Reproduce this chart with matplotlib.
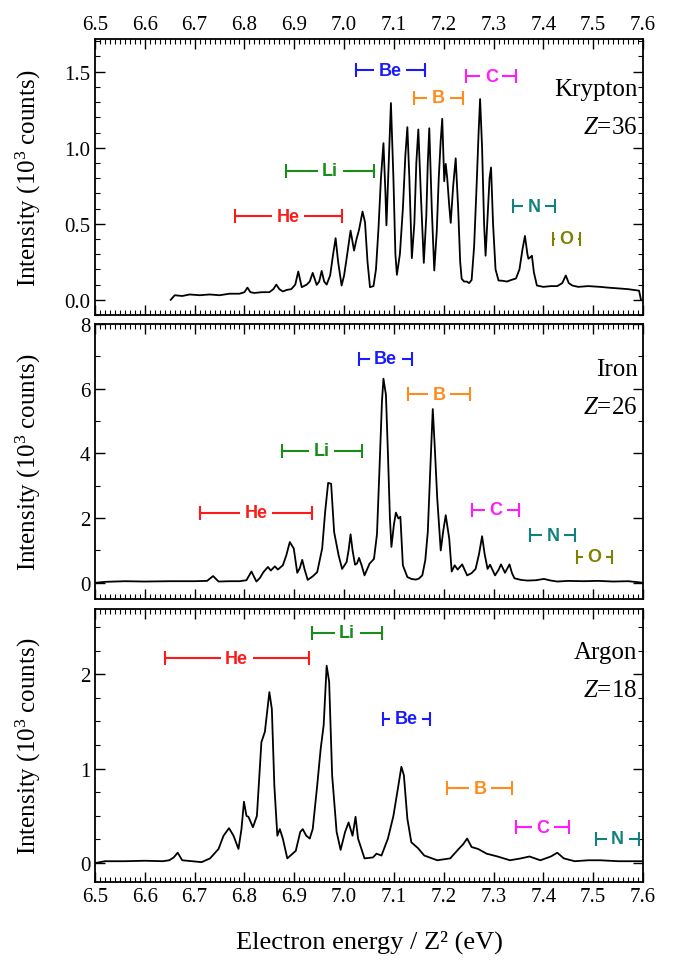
import numpy as np
import matplotlib
matplotlib.use("Agg")
import matplotlib.pyplot as plt
from matplotlib.ticker import MultipleLocator

plt.rcParams['font.family'] = ['Liberation Serif', 'DejaVu Serif']
plt.rcParams['mathtext.fontset'] = 'custom'
plt.rcParams['mathtext.rm'] = 'Liberation Serif'
plt.rcParams['mathtext.it'] = 'Liberation Serif:italic'

# --- spectra (x = electron energy / Z^2 in eV, y in 10^3 counts)
kr_x = [6.652, 6.660, 6.675, 6.690, 6.710, 6.730, 6.750, 6.770, 6.790, 6.800, 6.806, 6.812,
        6.820, 6.835, 6.850, 6.858, 6.864, 6.870, 6.877, 6.885, 6.894, 6.902, 6.908, 6.915,
        6.925, 6.931, 6.937, 6.945, 6.950, 6.955, 6.960, 6.965, 6.972, 6.978, 6.983, 6.988,
        6.995, 7.000, 7.005, 7.013, 7.020, 7.025, 7.030, 7.037, 7.042, 7.047, 7.052, 7.059,
        7.064, 7.069, 7.074, 7.079, 7.083, 7.085, 7.089, 7.094, 7.099, 7.103, 7.106, 7.112,
        7.118, 7.123, 7.127, 7.131, 7.136, 7.141, 7.145, 7.149, 7.154, 7.160, 7.165, 7.168,
        7.171, 7.176, 7.181, 7.186, 7.190, 7.194, 7.197, 7.201, 7.204, 7.207, 7.211, 7.214,
        7.219, 7.224, 7.229, 7.233, 7.236, 7.241, 7.246, 7.251, 7.256, 7.261, 7.266, 7.270,
        7.273, 7.277, 7.281, 7.284, 7.288, 7.292, 7.295, 7.299, 7.304, 7.310, 7.318, 7.327,
        7.335, 7.345, 7.352, 7.358, 7.363, 7.368, 7.370, 7.374, 7.377, 7.381, 7.387, 7.400,
        7.415, 7.428, 7.438, 7.445, 7.451, 7.458, 7.470, 7.490, 7.514, 7.530, 7.550, 7.570,
        7.592, 7.596]
kr_y = [0.00, 0.03, 0.025, 0.035, 0.03, 0.035, 0.03, 0.04, 0.04, 0.05, 0.08, 0.05,
        0.045, 0.05, 0.05, 0.07, 0.10, 0.07, 0.055, 0.065, 0.07, 0.10, 0.186, 0.083,
        0.10, 0.12, 0.177, 0.098, 0.12, 0.19, 0.12, 0.10, 0.16, 0.30, 0.405, 0.25,
        0.094, 0.16, 0.27, 0.455, 0.324, 0.40, 0.46, 0.58, 0.51, 0.25, 0.083, 0.09,
        0.20, 0.467, 0.80, 1.03, 0.70, 0.49, 0.85, 1.294, 0.80, 0.30, 0.164, 0.30,
        0.60, 0.95, 1.135, 0.80, 0.274, 0.50, 0.90, 1.12, 0.70, 0.243, 0.55, 0.90,
        1.128, 0.60, 0.193, 0.45, 0.80, 1.05, 1.19, 0.78, 0.894, 0.80, 0.62, 0.506,
        0.75, 0.93, 0.60, 0.25, 0.138, 0.12, 0.12, 0.11, 0.13, 0.35, 0.75, 1.10,
        1.32, 1.00, 0.50, 0.29, 0.55, 0.80, 0.87, 0.50, 0.20, 0.127, 0.125, 0.12,
        0.13, 0.14, 0.20, 0.33, 0.42, 0.30, 0.27, 0.28, 0.29, 0.18, 0.094, 0.085,
        0.09, 0.09, 0.11, 0.16, 0.11, 0.094, 0.085, 0.09, 0.085, 0.08, 0.075, 0.07,
        0.06, 0.00]

fe_x = [6.500, 6.520, 6.560, 6.600, 6.650, 6.700, 6.725, 6.737, 6.748, 6.770, 6.790, 6.804,
        6.814, 6.824, 6.831, 6.838, 6.847, 6.853, 6.861, 6.867, 6.877, 6.884, 6.891, 6.899,
        6.906, 6.911, 6.916, 6.921, 6.927, 6.937, 6.946, 6.956, 6.962, 6.968, 6.974, 6.980,
        6.989, 6.996, 7.005, 7.009, 7.013, 7.017, 7.022, 7.026, 7.030, 7.035, 7.041, 7.051,
        7.060, 7.066, 7.071, 7.076, 7.079, 7.084, 7.088, 7.092, 7.095, 7.100, 7.104, 7.109,
        7.113, 7.118, 7.127, 7.135, 7.144, 7.150, 7.157, 7.163, 7.168, 7.173, 7.178, 7.182,
        7.187, 7.194, 7.199, 7.204, 7.211, 7.216, 7.222, 7.228, 7.237, 7.247, 7.256, 7.264,
        7.271, 7.277, 7.282, 7.288, 7.293, 7.303, 7.310, 7.315, 7.323, 7.332, 7.337, 7.342,
        7.355, 7.368, 7.385, 7.401, 7.415, 7.428, 7.450, 7.480, 7.510, 7.540, 7.570, 7.590,
        7.600]
fe_y = [0.00, 0.03, 0.05, 0.04, 0.05, 0.05, 0.06, 0.21, 0.04, 0.05, 0.05, 0.08,
        0.35, 0.04, 0.15, 0.33, 0.49, 0.38, 0.51, 0.41, 0.54, 0.85, 1.26, 1.06,
        0.31, 0.45, 0.71, 0.40, 0.09, 0.20, 0.33, 1.06, 2.20, 3.09, 3.06, 1.57,
        0.85, 0.43, 0.64, 1.00, 1.50, 1.00, 0.56, 0.60, 0.77, 0.55, 0.23, 0.59,
        0.74, 1.50, 3.50, 5.60, 6.31, 5.81, 4.00, 2.00, 1.11, 1.80, 2.17, 1.99,
        2.04, 0.54, 0.18, 0.12, 0.10, 0.13, 0.23, 0.70, 1.57, 3.50, 5.37, 4.20,
        2.61, 1.00, 1.60, 2.09, 1.37, 0.35, 0.54, 0.41, 0.57, 0.23, 0.30, 0.43,
        0.90, 1.44, 0.90, 0.43, 0.56, 0.23, 0.40, 0.57, 0.31, 0.57, 0.30, 0.14,
        0.09, 0.07, 0.08, 0.12, 0.07, 0.04, 0.06, 0.05, 0.06, 0.04, 0.05, 0.02,
        0.00]

ar_x = [6.500, 6.520, 6.560, 6.600, 6.636, 6.649, 6.658, 6.666, 6.675, 6.695, 6.714, 6.731,
        6.748, 6.758, 6.769, 6.778, 6.788, 6.794, 6.799, 6.804, 6.808, 6.817, 6.825, 6.834,
        6.841, 6.850, 6.855, 6.860, 6.866, 6.871, 6.877, 6.886, 6.903, 6.912, 6.917, 6.924,
        6.931, 6.937, 6.946, 6.953, 6.959, 6.965, 6.970, 6.976, 6.985, 6.993, 7.002, 7.009,
        7.017, 7.023, 7.028, 7.041, 7.058, 7.065, 7.075, 7.088, 7.099, 7.108, 7.115, 7.120,
        7.127, 7.135, 7.148, 7.161, 7.187, 7.213, 7.230, 7.239, 7.247, 7.256, 7.269, 7.286,
        7.308, 7.333, 7.355, 7.372, 7.394, 7.415, 7.428, 7.441, 7.463, 7.490, 7.514, 7.550,
        7.600]
ar_y = [0.00, 0.02, 0.02, 0.025, 0.02, 0.03, 0.06, 0.11, 0.03, 0.02, 0.01, 0.05,
        0.15, 0.29, 0.37, 0.29, 0.15, 0.36, 0.65, 0.50, 0.49, 0.38, 0.50, 1.28,
        1.39, 1.81, 1.63, 0.82, 0.29, 0.36, 0.26, 0.05, 0.13, 0.33, 0.36, 0.29,
        0.26, 0.36, 0.82, 1.21, 1.46, 2.09, 1.92, 0.93, 0.33, 0.14, 0.33, 0.43,
        0.29, 0.49, 0.26, 0.05, 0.06, 0.10, 0.08, 0.26, 0.50, 0.79, 1.02, 0.93,
        0.47, 0.22, 0.16, 0.08, 0.03, 0.05, 0.15, 0.20, 0.26, 0.17, 0.15, 0.10,
        0.07, 0.03, 0.05, 0.07, 0.03, 0.07, 0.11, 0.05, 0.02, 0.03, 0.03, 0.02,
        0.02]

# --- charge-state ranges (ion, low, high, height)
kr_ions = ['He', 'Li', 'Be', 'B', 'C', 'N', 'O']
kr_lo = [6.781, 6.883, 7.023, 7.140, 7.245, 7.340, 7.420]
kr_hi = [6.995, 7.061, 7.163, 7.239, 7.346, 7.423, 7.473]
kr_lvl = [0.55, 0.85, 1.51, 1.33, 1.47, 0.615, 0.40]

fe_ions = ['He', 'Li', 'Be', 'B', 'C', 'N', 'O']
fe_lo = [6.711, 6.875, 7.030, 7.129, 7.256, 7.374, 7.467]
fe_hi = [6.935, 7.036, 7.137, 7.252, 7.352, 7.464, 7.538]
fe_lvl = [2.16, 4.09, 6.93, 5.83, 2.26, 1.47, 0.80]

ar_ions = ['He', 'Li', 'Be', 'B', 'C', 'N']
ar_lo = [6.640, 6.935, 7.078, 7.207, 7.346, 7.506]
ar_hi = [6.929, 7.077, 7.172, 7.338, 7.452, 7.592]
ar_lvl = [2.17, 2.44, 1.53, 0.79, 0.38, 0.26]

ion_colors = {'He': '#ff1a1a', 'Li': '#1a8c1a', 'Be': '#1a1aff', 'B': '#ff8c1a',
              'C': '#ff1aff', 'N': '#138080', 'O': '#808000'}

panels = [
    ('Krypton', '36', kr_x, kr_y, kr_ions, kr_lo, kr_hi, kr_lvl, (-0.1, 1.715), 0.5, 0.1, '%.1f'),
    ('Iron', '26', fe_x, fe_y, fe_ions, fe_lo, fe_hi, fe_lvl, (-0.5, 8.0), 2, 1, '%d'),
    ('Argon', '18', ar_x, ar_y, ar_ions, ar_lo, ar_hi, ar_lvl, (-0.2, 2.69), 1, 0.25, '%d'),
]
name_pos = [(0.819, 0.681), (0.836, 0.698), (0.843, 0.705)]
bottoms = [1 - 316 / 962, 1 - 600 / 962, 1 - 883 / 962]
heights = [276 / 962, 275 / 962, 273 / 962]

fig = plt.figure(figsize=(6.73, 9.62), dpi=100)

for i, (name, z, x, y, ions, lo, hi, lvl, ylim, major, minor, fmt) in enumerate(panels):
    ax = fig.add_axes([95 / 673, bottoms[i], 548 / 673, heights[i]])
    ax.plot(x, y, color='black', lw=1.3, zorder=2)
    for ion, a, b, h in zip(ions, lo, hi, lvl):
        c = ion_colors[ion]
        ax.errorbar((a + b) / 2, h, xerr=(b - a) / 2, fmt='none', ecolor=c,
                    elinewidth=1.5, capsize=5, capthick=1.5, zorder=3)
        ax.text((a + b) / 2, h, ion, color=c, ha='center', va='center',
                fontsize=13, fontweight='bold', family=['Liberation Sans', 'DejaVu Sans'],
                bbox=dict(boxstyle='square,pad=0.25', fc='white', ec='none'), zorder=4)

    ax.set_xlim(6.5, 7.6)
    ax.set_ylim(*ylim)
    ax.xaxis.set_major_locator(MultipleLocator(0.1))
    ax.xaxis.set_minor_locator(MultipleLocator(0.01))
    ax.yaxis.set_major_locator(MultipleLocator(major))
    ax.yaxis.set_minor_locator(MultipleLocator(minor))
    ax.yaxis.set_major_formatter(plt.FormatStrFormatter(fmt))
    ax.xaxis.set_major_formatter(plt.FormatStrFormatter('%.1f'))
    ax.tick_params(which='both', direction='in', top=True, right=True, labelsize=15)
    ax.tick_params(which='major', length=7, width=1)
    ax.tick_params(which='minor', length=3.5, width=0.8)
    for s in ax.spines.values():
        s.set_linewidth(1.3)

    if i == 0:
        ax.tick_params(labeltop=True, labelbottom=False)
    elif i == 1:
        ax.tick_params(labelbottom=False)

    ax.set_ylabel('Intensity (10$^3$ counts)', fontsize=18)
    ax.yaxis.set_label_coords(-0.095, 0.5)

    ax.text(0.99, name_pos[i][0], name, transform=ax.transAxes, ha='right', va='center', fontsize=18)
    ax.text(0.99, name_pos[i][1], '$Z$=' + z, transform=ax.transAxes, ha='right', va='center', fontsize=18)

    if i == 2:
        ax.set_xlabel('Electron energy / Z² (eV)', fontsize=19)
        ax.xaxis.label.set_va('center')
        ax.xaxis.set_label_coords(0.5, -0.216)

fig.savefig('out.png', dpi=100)
